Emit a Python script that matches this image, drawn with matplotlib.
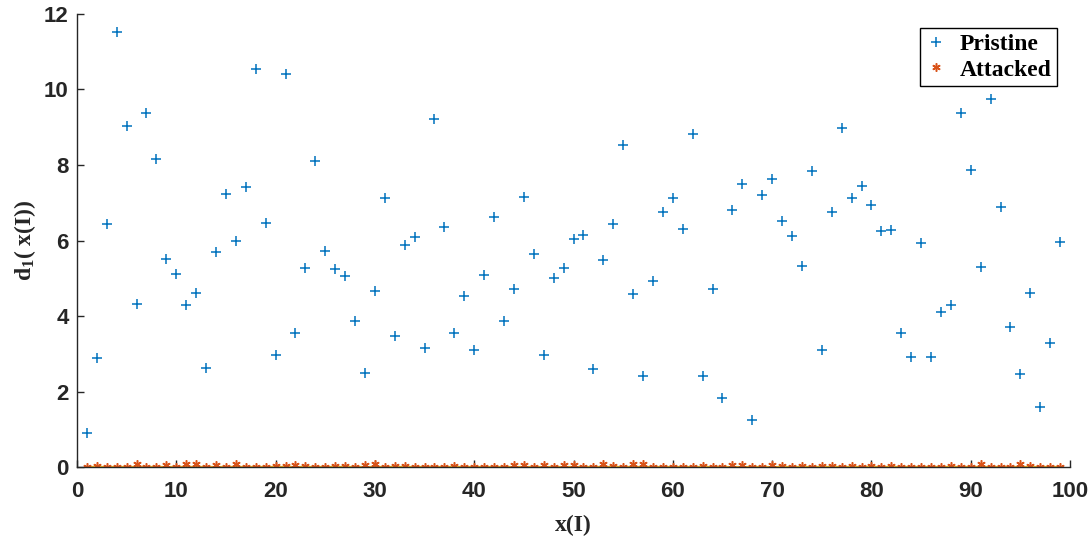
import numpy as np
import matplotlib
matplotlib.use("Agg")
import matplotlib.pyplot as plt

# Data
idx = list(range(1, 100))
pristine = [0.90, 2.88, 6.44, 11.53, 9.03, 4.31, 9.39, 8.15, 5.51, 5.11,
            4.29, 4.61, 2.62, 5.70, 7.23, 5.99, 7.42, 10.54, 6.47, 2.97,
            10.41, 3.55, 5.27, 8.10, 5.73, 5.25, 5.06, 3.86, 2.50, 4.66,
            7.12, 3.47, 5.87, 6.08, 3.15, 9.23, 6.35, 3.55, 4.52, 3.10,
            5.08, 6.61, 3.86, 4.71, 7.14, 5.63, 2.96, 5.01, 5.26, 6.03,
            6.14, 2.59, 5.48, 6.43, 8.54, 4.58, 2.41, 4.92, 6.75, 7.12,
            6.30, 8.81, 2.41, 4.71, 1.83, 6.81, 7.49, 1.24, 7.20, 7.62,
            6.51, 6.11, 5.32, 7.83, 3.10, 6.75, 8.99, 7.12, 7.44, 6.93,
            6.25, 6.28, 3.54, 2.91, 5.93, 2.91, 4.10, 4.28, 9.37, 7.86,
            5.30, 9.74, 6.90, 3.70, 2.46, 4.60, 1.60, 3.29, 5.95]
attacked = [0.01, 0.04, 0.01, 0.01, 0.01, 0.07, 0.01, 0.01, 0.06, 0.01,
            0.09, 0.09, 0.01, 0.06, 0.01, 0.09, 0.01, 0.01, 0.01, 0.04,
            0.04, 0.06, 0.02, 0.01, 0.01, 0.04, 0.04, 0.01, 0.06, 0.09,
            0.01, 0.04, 0.04, 0.01, 0.01, 0.01, 0.01, 0.04, 0.01, 0.01,
            0.01, 0.01, 0.01, 0.06, 0.06, 0.01, 0.06, 0.01, 0.06, 0.05,
            0.01, 0.01, 0.08, 0.04, 0.01, 0.09, 0.07, 0.01, 0.01, 0.01,
            0.01, 0.01, 0.04, 0.01, 0.01, 0.05, 0.05, 0.01, 0.01, 0.05,
            0.04, 0.01, 0.04, 0.01, 0.04, 0.04, 0.01, 0.04, 0.01, 0.04,
            0.01, 0.04, 0.01, 0.01, 0.01, 0.01, 0.01, 0.04, 0.01, 0.01,
            0.09, 0.01, 0.01, 0.01, 0.08, 0.04, 0.01, 0.01, 0.01]
baseline = [0.0] * len(idx)
xticks = [0, 10, 20, 30, 40, 50, 60, 70, 80, 90, 100]
yticks = [0, 2, 4, 6, 8, 10, 12]

plt.rcParams['mathtext.fontset'] = 'custom'
plt.rcParams['mathtext.rm'] = 'Liberation Serif:bold'
plt.rcParams['mathtext.it'] = 'Liberation Serif:bold'
plt.rcParams['mathtext.bf'] = 'Liberation Serif:bold'

fig = plt.figure(figsize=(10.9, 5.36), dpi=100)
ax = fig.add_axes([0.0706, 0.1287, 0.9111, 0.8452])

dark = '#262626'
ax.plot(idx, baseline, color='#EDB120', lw=1.6, zorder=1)
ax.plot(idx, pristine, linestyle='none', marker='+', color='#0072BD',
        markersize=7, markeredgewidth=1.1, label='Pristine', zorder=3)
ax.plot(idx, attacked, linestyle='none', marker=(6, 2, 0), color='#D95319',
        markersize=6, markeredgewidth=1.1, label='Attacked', zorder=2)

ax.set_xlim(0, 100)
ax.set_ylim(0, 12)
ax.set_xticks(xticks)
ax.set_yticks(yticks)
ax.spines['top'].set_visible(False)
ax.spines['right'].set_visible(False)
for s in ('left', 'bottom'):
    ax.spines[s].set_color(dark)
    ax.spines[s].set_linewidth(1.0)
ax.tick_params(direction='in', length=5, width=1.0, color=dark,
               labelcolor=dark, labelsize=16)
ax.tick_params(axis='x', pad=10)
ax.tick_params(axis='y', pad=6)
for lab in ax.get_xticklabels() + ax.get_yticklabels():
    lab.set_fontweight('bold')
    lab.set_fontfamily('Liberation Sans')

ax.set_xlabel('x(I)', fontsize=17, fontweight='bold', family='Liberation Serif',
              color=dark, labelpad=9)
ax.set_ylabel(r'd$_1$( x(I))', fontsize=17, fontweight='bold',
              family='Liberation Serif', color=dark, labelpad=4)

leg = ax.legend(loc='upper right', bbox_to_anchor=(0.987, 0.969),
                prop={'family': 'Liberation Serif', 'weight': 'bold', 'size': 17},
                fancybox=False, edgecolor='black', framealpha=1,
                borderpad=0.25, labelspacing=0.15, handlelength=0.8,
                handletextpad=0.6, borderaxespad=0)
leg.get_frame().set_linewidth(1.0)

fig.savefig('out.png', dpi=100)
